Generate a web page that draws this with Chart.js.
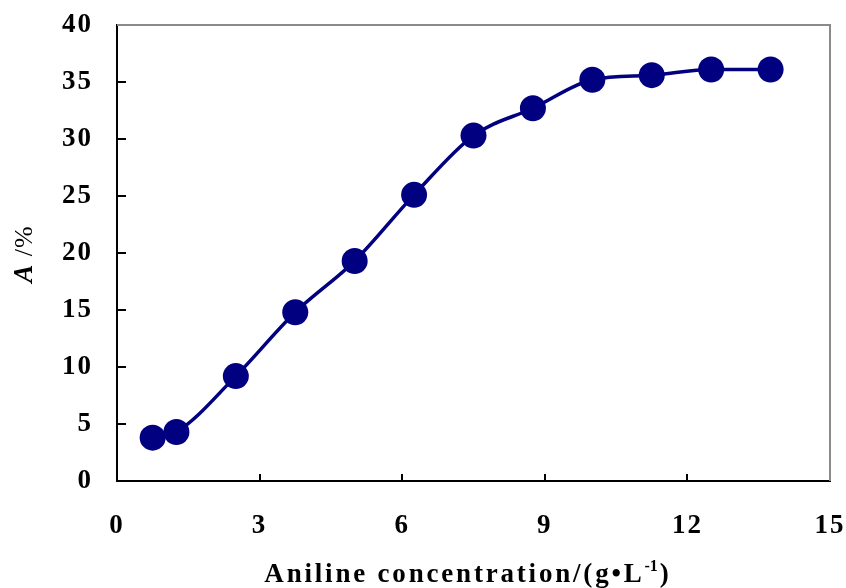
<!DOCTYPE html>
<html>
<head>
<meta charset="utf-8">
<script src="https://cdn.jsdelivr.net/npm/chart.js@4"></script>
<style>
  html, body { margin: 0; padding: 0; background: #fff; }
  #wrap { width: 846px; height: 588px; position: relative; }
</style>
</head>
<body>
<div id="wrap"><canvas id="chart"></canvas></div>
<script>
// dados
const concentration = [0.75, 1.25, 2.5, 3.75, 5, 6.25, 7.5, 8.75, 10, 11.25, 12.5, 13.75];
const absorption    = [3.8, 4.3, 9.2, 14.8, 19.3, 25.1, 30.3, 32.7, 35.2, 35.6, 36.1, 36.1];
const xTicks = [0, 3, 6, 9, 12, 15];
const yTicks = [0, 5, 10, 15, 20, 25, 30, 35, 40];

const NAVY = '#000080';
const FONT = "'Liberation Serif', 'Times New Roman', serif";

// espaçamento de letras (o original é meio esticado)
const spacing = {
  id: 'spacing',
  beforeDraw(chart) { chart.ctx.letterSpacing = '2px'; }
};

// ticks para dentro + moldura de cima/direita + títulos com estilo misto
const decor = {
  id: 'decor',
  afterDraw(chart) {
    const { ctx, chartArea: a, scales: { x, y } } = chart;
    ctx.save();
    ctx.strokeStyle = '#000';
    ctx.lineWidth = 2;
    ctx.beginPath();
    xTicks.forEach(v => {
      const px = Math.round(x.getPixelForValue(v));
      if (v === 0 || v === 15) return;
      ctx.moveTo(px, a.bottom); ctx.lineTo(px, a.bottom - 7);
    });
    yTicks.forEach(v => {
      const py = Math.round(y.getPixelForValue(v));
      if (v === 0) return;
      ctx.moveTo(a.left, py); ctx.lineTo(a.left + 9, py);
    });
    ctx.stroke();

    // moldura cinza
    ctx.strokeStyle = '#8a8a8a';
    ctx.beginPath();
    ctx.moveTo(a.left, a.top); ctx.lineTo(a.right, a.top); ctx.lineTo(a.right, a.bottom);
    ctx.stroke();

    // título X — ajusta o espaçamento para ~400px de largura
    ctx.fillStyle = '#000';
    ctx.textBaseline = 'alphabetic';
    const main = 'Aniline concentration/(g\u2022L';
    const sup = '-1';
    const tail = ')';
    ctx.letterSpacing = '0px';
    ctx.font = `bold 27px ${FONT}`;
    const raw = ctx.measureText(main + tail).width;
    const ls = Math.max(0, (392 - raw) / (main.length + tail.length));
    ctx.letterSpacing = ls + 'px';
    const wMain = ctx.measureText(main).width;
    const wTail = ctx.measureText(tail).width;
    ctx.font = `bold 16px ${FONT}`;
    ctx.letterSpacing = '0px';
    const wSup = ctx.measureText(sup).width + 2;
    let sx = 468 - (wMain + wSup + wTail) / 2;
    const by = 582;
    ctx.letterSpacing = ls + 'px';
    ctx.font = `bold 27px ${FONT}`;
    ctx.fillText(main, sx, by);
    sx += wMain;
    ctx.letterSpacing = '0px';
    ctx.font = `bold 16px ${FONT}`;
    ctx.fillText(sup, sx, by - 11);
    sx += wSup;
    ctx.letterSpacing = ls + 'px';
    ctx.font = `bold 27px ${FONT}`;
    ctx.fillText(tail, sx, by);

    // título Y (A itálico)
    ctx.translate(32, 254);
    ctx.rotate(-Math.PI / 2);
    ctx.letterSpacing = '1px';
    ctx.font = `italic bold 27px ${FONT}`;
    const wA = ctx.measureText('A').width;
    ctx.font = `26px ${FONT}`;
    const wP = ctx.measureText(' /%').width;
    let tx = -(wA + wP) / 2;
    ctx.font = `italic bold 27px ${FONT}`;
    ctx.fillText('A', tx, 0);
    ctx.font = `26px ${FONT}`;
    ctx.fillText(' /%', tx + wA, 0);
    ctx.restore();
  }
};

new Chart(document.getElementById('chart'), {
  type: 'line',
  data: {
    datasets: [{
      data: concentration.map((c, i) => ({ x: c, y: absorption[i] })),
      borderColor: NAVY,
      backgroundColor: NAVY,
      borderWidth: 3.5,
      pointRadius: 13,
      pointBorderWidth: 0,
      pointBackgroundColor: NAVY,
      cubicInterpolationMode: 'monotone'
    }]
  },
  options: {
    responsive: true,
    maintainAspectRatio: false,
    animation: false,
    events: [],
    layout: { padding: { top: 25, right: 16, left: 0, bottom: 0 } },
    plugins: { legend: { display: false }, tooltip: { enabled: false } },
    scales: {
      x: {
        type: 'linear',
        min: 0, max: 15,
        afterBuildTicks: s => { s.ticks = xTicks.map(v => ({ value: v })); },
        afterFit: s => { s.height = 107; s.paddingLeft = 0; s.paddingRight = 0; },
        grid: { display: false, drawTicks: false },
        border: { color: '#000', width: 2 },
        ticks: {
          color: '#000',
          padding: 29,
          maxRotation: 0,
          font: { family: FONT, size: 27, weight: 'bold' }
        }
      },
      y: {
        min: 0, max: 40,
        afterBuildTicks: s => { s.ticks = yTicks.map(v => ({ value: v })); },
        afterFit: s => { s.width = 117; s.paddingTop = 0; s.paddingBottom = 0; },
        grid: { display: false, drawTicks: false },
        border: { color: '#000', width: 2 },
        ticks: {
          color: '#000',
          padding: 24,
          font: { family: FONT, size: 27, weight: 'bold' }
        }
      }
    }
  },
  plugins: [spacing, decor]
});
</script>
</body>
</html>
